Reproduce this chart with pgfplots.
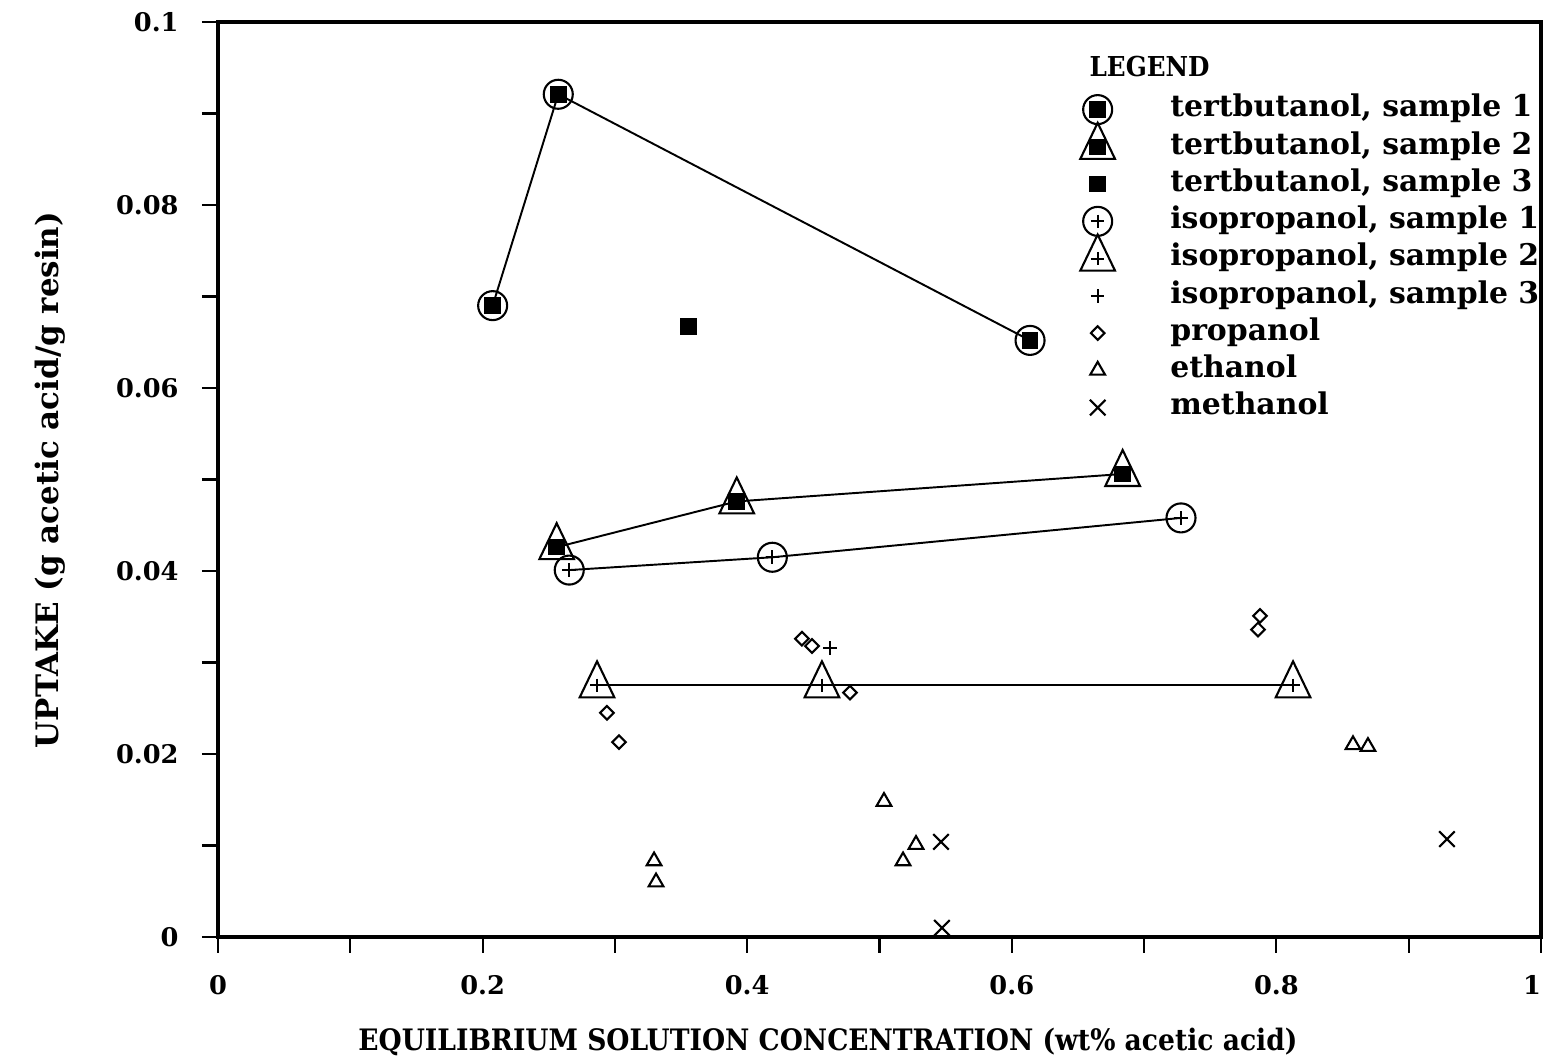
\documentclass[border=0pt]{standalone}
\usepackage{fontspec}
\setmainfont{DejaVu Serif}[BoldFont={DejaVu Serif Bold}]
\newfontfamily\condfont{DejaVu Serif Condensed Bold}
\usepackage{pgfplots}
\pgfplotsset{compat=1.18}

% marker shapes shared by the plots and the legend
\tikzset{
  mk/.style={black, line width=0.6pt},
  big circle/.style={mark=o, mark size=1.45mm},
  big triangle/.style={mark=triangle, mark size=2mm, mark options={yscale=1.2}},
  fill square/.style={mark=square*, mark size=0.72mm},
  small plus/.style={mark=+, mark size=0.68mm},
  small diamond/.style={mark=diamond, mark size=0.68mm, mark options={xscale=1.33}},
  small triangle/.style={mark=triangle, mark size=0.85mm},
  small cross/.style={mark=x, mark size=1.1mm},
}
% legend symbol: marks at the centre of a 0.6cm cell, height set by the text
\newcommand{\legmark}[1]{%
  \begin{pgfinterruptboundingbox}#1\end{pgfinterruptboundingbox}%
  \path (0cm,-0.5mm) (0.6cm,0.5mm);}
\newcommand{\xlabfont}{\fontsize{8.4}{10}\selectfont\condfont}
\newcommand{\ylabfont}{\fontsize{8.8}{10}\selectfont\bfseries}
\newcommand{\legfont}{\fontsize{8.5}{10}\selectfont\bfseries}

\begin{document}
\begin{tikzpicture}
\path[use as bounding box] (-21.8mm,-12.3mm) rectangle (132.5mm,93.7mm);
\begin{axis}[
  scale only axis,
  width=132.3mm, height=91.5mm,
  xmin=0, xmax=1, ymin=0, ymax=0.1,
  xtick={0,0.2,0.4,0.6,0.8,1},
  xticklabels={0,0.2,0.4,0.6,0.8,\makebox[0pt][r]{1}},
  ytick={0,0.02,0.04,0.06,0.08,0.1},
  yticklabels={0,0.02,0.04,0.06,0.08,0.1},
  minor xtick={0.1,0.3,0.5,0.7,0.9},
  minor ytick={0.01,0.03,0.05,0.07,0.09},
  xtick pos=left, ytick pos=left,
  tick align=outside,
  major tick length=1.6mm, minor tick length=1.6mm,
  every tick/.style={black, line width=0.6pt},
  axis line style={line width=1pt},
  ticklabel style={font=\fontsize{7.3}{9}\selectfont\bfseries},
  xticklabel style={yshift=-1mm},
  yticklabel style={xshift=-1.1mm},
  xlabel={EQUILIBRIUM SOLUTION CONCENTRATION (wt\% acetic acid)},
  ylabel={UPTAKE (g acetic acid/g resin)},
  xlabel style={font=\xlabfont, at={(axis description cs:0.461,-0.1246)}, anchor=base},
  ylabel style={font=\ylabfont, at={(axis description cs:-0.1209,0.4995)}, anchor=base},
  legend style={
    at={(axis cs:0.6417,0.09246)}, anchor=north west,
    draw=none, fill=none, inner sep=0pt, outer sep=0pt,
    font=\legfont, row sep=0pt, column sep=4.2mm,
    nodes={inner sep=0pt, text height=2.6mm, text depth=1.125mm},
  },
  legend cell align=left,
]

% ---- legend entries
\addlegendimage{legend image code/.code={\legmark{%
  \draw[mk,big circle] plot coordinates {(0.3cm,0cm)};
  \draw[mk,fill square] plot coordinates {(0.3cm,0cm)};}}}
\addlegendentry{tertbutanol, sample 1}
\addlegendimage{legend image code/.code={\legmark{%
  \draw[mk,big triangle] plot coordinates {(0.3cm,0cm)};
  \draw[mk,fill square] plot coordinates {(0.3cm,0cm)};}}}
\addlegendentry{tertbutanol, sample 2}
\addlegendimage{legend image code/.code={\legmark{%
  \draw[mk,fill square] plot coordinates {(0.3cm,0cm)};}}}
\addlegendentry{tertbutanol, sample 3}
\addlegendimage{legend image code/.code={\legmark{%
  \draw[mk,big circle] plot coordinates {(0.3cm,0cm)};
  \draw[mk,small plus] plot coordinates {(0.3cm,0cm)};}}}
\addlegendentry{isopropanol, sample 1}
\addlegendimage{legend image code/.code={\legmark{%
  \draw[mk,big triangle] plot coordinates {(0.3cm,0cm)};
  \draw[mk,small plus] plot coordinates {(0.3cm,0cm)};}}}
\addlegendentry{isopropanol, sample 2}
\addlegendimage{legend image code/.code={\legmark{%
  \draw[mk,small plus] plot coordinates {(0.3cm,0cm)};}}}
\addlegendentry{isopropanol, sample 3}
\addlegendimage{legend image code/.code={\legmark{%
  \draw[mk,small diamond] plot coordinates {(0.3cm,0cm)};}}}
\addlegendentry{propanol}
\addlegendimage{legend image code/.code={\legmark{%
  \draw[mk,small triangle] plot coordinates {(0.3cm,0cm)};}}}
\addlegendentry{ethanol}
\addlegendimage{legend image code/.code={\legmark{%
  \draw[mk,small cross] plot coordinates {(0.3cm,0cm)};}}}
\addlegendentry{methanol}

% ---- tertbutanol, sample 1
\addplot[black, line width=0.55pt, forget plot] coordinates {
  (0.2076,0.0690) (0.2572,0.0921) (0.6138,0.0652)};
\addplot[only marks, mk, big circle, forget plot] coordinates {
  (0.2076,0.0690) (0.2572,0.0921) (0.6138,0.0652)};
\addplot[only marks, mk, fill square, forget plot] coordinates {
  (0.2076,0.0690) (0.2572,0.0921) (0.6138,0.0652)};

% ---- tertbutanol, sample 2
\addplot[black, line width=0.55pt, forget plot] coordinates {
  (0.2560,0.0426) (0.3921,0.0476) (0.6838,0.0506)};
\addplot[only marks, mk, big triangle, forget plot] coordinates {
  (0.2560,0.0426) (0.3921,0.0476) (0.6838,0.0506)};
\addplot[only marks, mk, fill square, forget plot] coordinates {
  (0.2560,0.0426) (0.3921,0.0476) (0.6838,0.0506)};

% ---- tertbutanol, sample 3
\addplot[only marks, mk, fill square, forget plot] coordinates {
  (0.3555,0.0667)};

% ---- isopropanol, sample 1
\addplot[black, line width=0.55pt, forget plot] coordinates {
  (0.2655,0.0401) (0.4190,0.0415) (0.7279,0.0458)};
\addplot[only marks, mk, big circle, forget plot] coordinates {
  (0.2655,0.0401) (0.4190,0.0415) (0.7279,0.0458)};
\addplot[only marks, mk, small plus, forget plot] coordinates {
  (0.2655,0.0401) (0.4190,0.0415) (0.7279,0.0458)};

% ---- isopropanol, sample 2
\addplot[black, line width=0.55pt, forget plot] coordinates {
  (0.2865,0.0275) (0.4565,0.0275) (0.8126,0.0275)};
\addplot[only marks, mk, big triangle, forget plot] coordinates {
  (0.2865,0.0275) (0.4565,0.0275) (0.8126,0.0275)};
\addplot[only marks, mk, small plus, forget plot] coordinates {
  (0.2865,0.0275) (0.4565,0.0275) (0.8126,0.0275)};

% ---- isopropanol, sample 3
\addplot[only marks, mk, small plus, forget plot] coordinates {
  (0.4626,0.0316)};

% ---- propanol
\addplot[only marks, mk, small diamond, forget plot] coordinates {
  (0.2940,0.0245) (0.3031,0.0213) (0.4414,0.0326) (0.4490,0.0318)
  (0.4777,0.0267) (0.7861,0.0336) (0.7876,0.0351)};

% ---- ethanol
\addplot[only marks, mk, small triangle, forget plot] coordinates {
  (0.3296,0.0083) (0.3311,0.0060) (0.5034,0.0148) (0.5178,0.0083)
  (0.5276,0.0101) (0.8579,0.0210) (0.8692,0.0208)};

% ---- methanol
\addplot[only marks, mk, small cross, forget plot] coordinates {
  (0.5465,0.0104) (0.5472,0.0010) (0.9289,0.0107)};

\node[anchor=base west, font=\fontsize{7.8}{9}\selectfont\condfont, inner sep=0pt]
  at (axis cs:0.6583,0.09402) {LEGEND};
\end{axis}
\end{tikzpicture}
\end{document}
